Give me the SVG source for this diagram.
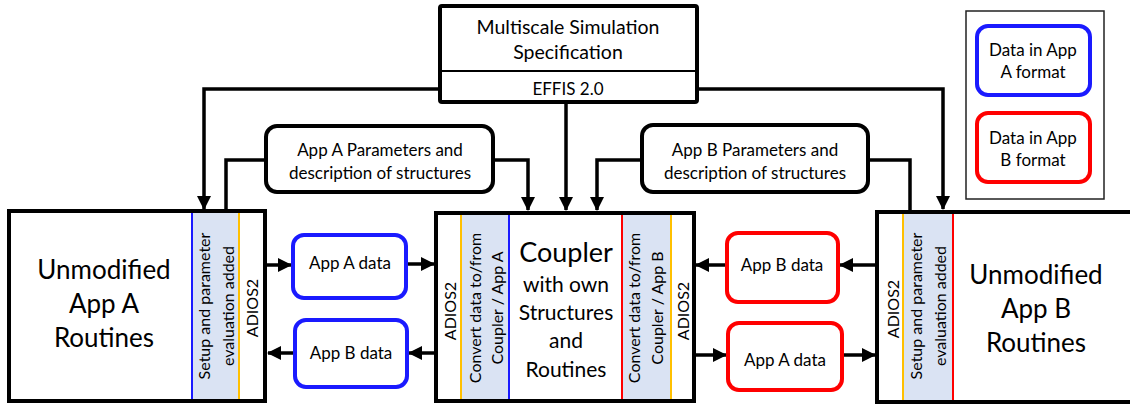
<svg xmlns="http://www.w3.org/2000/svg" width="1130" height="404" viewBox="0 0 1130 404">
  <style>
    text { font-family: Lato, "Open Sans", "Liberation Sans", sans-serif; fill: #000; }
    .box { fill: #fff; stroke: #000; stroke-width: 4; }
    .panel { fill: #dae3f3; stroke: none; }
    .sepBlue { stroke: #1a1aff; stroke-width: 2; }
    .sepRed { stroke: #ff0000; stroke-width: 2; }
    .sepGold { stroke: #ffc000; stroke-width: 2; }
    .dataA { fill: #fff; stroke: #1a1aff; stroke-width: 4; }
    .dataB { fill: #fff; stroke: #ff0000; stroke-width: 4; }
    .param { fill: #fff; stroke: #000; stroke-width: 4; }
    .big { font-size: 26px; text-anchor: middle; }
    .mid { font-size: 21px; text-anchor: middle; }
    .lbl { font-size: 17px; text-anchor: middle; }
    .vt { font-size: 16px; text-anchor: middle; }
    .conn { fill: none; stroke: #000; stroke-width: 3.5; }
    .arr { marker-end: url(#head); }
  </style>
  <defs>
    <marker id="head" markerUnits="userSpaceOnUse" markerWidth="14" markerHeight="14" viewBox="0 0 14 14" refX="13" refY="7" orient="auto">
      <path d="M0,0 L14,7 L0,14 Z" fill="#000"/>
    </marker>
  </defs>

  <!-- connectors -->
  <g id="connectors">
    <!-- specification fan-out -->
    <path class="conn arr" d="M440,89 H204 V209"/>
    <path class="conn arr" d="M697,89 H943 V209"/>
    <path class="conn arr" d="M566,102 V210"/>
    <!-- parameter boxes -->
    <path class="conn" d="M226,211 V160 H266"/>
    <path class="conn arr" d="M493,160 H528 V210"/>
    <path class="conn arr" d="M642,160 H597 V210"/>
    <path class="conn" d="M868,160 H910 V211"/>
    <!-- App A side data flow -->
    <path class="conn arr" d="M266,265 H291"/>
    <path class="conn arr" d="M406,264 H434"/>
    <path class="conn arr" d="M436,353 H409"/>
    <path class="conn arr" d="M295,353 H268"/>
    <!-- App B side data flow -->
    <path class="conn arr" d="M877,265 H840"/>
    <path class="conn arr" d="M727,265 H696"/>
    <path class="conn arr" d="M694,355 H726"/>
    <path class="conn arr" d="M842,355 H875"/>
  </g>

  <!-- specification -->
  <g id="spec">
    <rect class="box" x="440" y="6" width="257" height="96" rx="2"/>
    <line x1="440" y1="71" x2="697" y2="71" stroke="#000" stroke-width="2"/>
    <text class="mid" x="568" y="34" style="font-size:19.5px">Multiscale Simulation</text>
    <text class="mid" x="568" y="59" style="font-size:19.5px">Specification</text>
    <text class="mid" x="568" y="95" style="font-size:17px">EFFIS 2.0</text>
  </g>

  <!-- legend -->
  <g id="legend">
    <rect x="966" y="11" width="138" height="188" fill="#fff" stroke="#222" stroke-width="1.5"/>
    <rect class="dataA" x="977" y="26" width="113" height="69" rx="11"/>
    <text class="lbl" x="1033" y="56">Data in App</text>
    <text class="lbl" x="1033" y="78">A format</text>
    <rect class="dataB" x="977" y="113" width="113" height="69" rx="11"/>
    <text class="lbl" x="1033" y="144">Data in App</text>
    <text class="lbl" x="1033" y="166">B format</text>
  </g>

  <!-- parameter boxes -->
  <g id="paramsA">
    <rect class="param" x="266" y="126" width="227" height="66" rx="11"/>
    <text class="lbl" x="380" y="156">App A Parameters and</text>
    <text class="lbl" x="380" y="179">description of structures</text>
  </g>
  <g id="paramsB">
    <rect class="param" x="642" y="125" width="226" height="67" rx="11"/>
    <text class="lbl" x="755" y="156">App B Parameters and</text>
    <text class="lbl" x="755" y="179">description of structures</text>
  </g>

  <!-- App A -->
  <g id="appA">
    <rect class="box" x="9" y="211" width="256" height="190"/>
    <rect class="panel" x="192" y="213" width="47" height="186"/>
    <line class="sepBlue" x1="192" y1="213" x2="192" y2="399"/>
    <line class="sepGold" x1="239" y1="213" x2="239" y2="399"/>
    <text class="big" x="104" y="279">Unmodified</text>
    <text class="big" x="104" y="313">App A</text>
    <text class="big" x="104" y="347">Routines</text>
    <g transform="translate(204,306) rotate(-90)"><text class="vt" x="0" y="5.5">Setup and parameter</text></g>
    <g transform="translate(228,306) rotate(-90)"><text class="vt" x="0" y="5.5">evaluation added</text></g>
    <g transform="translate(252,308) rotate(-90)"><text class="vt" x="0" y="5.5">ADIOS2</text></g>
  </g>

  <!-- coupler -->
  <g id="coupler">
    <rect class="box" x="436" y="213" width="258" height="188"/>
    <rect class="panel" x="461" y="215" width="48" height="184"/>
    <rect class="panel" x="622" y="215" width="49" height="184"/>
    <line class="sepGold" x1="461" y1="215" x2="461" y2="399"/>
    <line class="sepBlue" x1="509" y1="215" x2="509" y2="399"/>
    <line class="sepRed" x1="622" y1="215" x2="622" y2="399"/>
    <line class="sepGold" x1="671" y1="215" x2="671" y2="399"/>
    <text class="big" x="566" y="262" style="font-size:27px">Coupler</text>
    <text class="mid" x="566" y="292">with own</text>
    <text class="mid" x="566" y="320">Structures</text>
    <text class="mid" x="566" y="348">and</text>
    <text class="mid" x="566" y="377">Routines</text>
    <g transform="translate(450,311) rotate(-90)"><text class="vt" x="0" y="5.5">ADIOS2</text></g>
    <g transform="translate(475,308) rotate(-90)"><text class="vt" x="0" y="5.5">Convert data to/from</text></g>
    <g transform="translate(497,308) rotate(-90)"><text class="vt" x="0" y="5.5">Coupler / App A</text></g>
    <g transform="translate(634,308) rotate(-90)"><text class="vt" x="0" y="5.5">Convert data to/from</text></g>
    <g transform="translate(657,308) rotate(-90)"><text class="vt" x="0" y="5.5">Coupler / App B</text></g>
    <g transform="translate(683,311) rotate(-90)"><text class="vt" x="0" y="5.5">ADIOS2</text></g>
  </g>

  <!-- App B -->
  <g id="appB">
    <rect class="box" x="877" y="212" width="260" height="190"/>
    <rect class="panel" x="903" y="214" width="50" height="186"/>
    <line class="sepGold" x1="903" y1="214" x2="903" y2="400"/>
    <line class="sepRed" x1="953" y1="214" x2="953" y2="400"/>
    <text class="big" x="1036" y="284">Unmodified</text>
    <text class="big" x="1036" y="318">App B</text>
    <text class="big" x="1036" y="352">Routines</text>
    <g transform="translate(893,309) rotate(-90)"><text class="vt" x="0" y="5.5">ADIOS2</text></g>
    <g transform="translate(916,306) rotate(-90)"><text class="vt" x="0" y="5.5">Setup and parameter</text></g>
    <g transform="translate(940,306) rotate(-90)"><text class="vt" x="0" y="5.5">evaluation added</text></g>
  </g>

  <!-- data packets -->
  <g id="dataA1">
    <rect class="dataA" x="293" y="235" width="113" height="63" rx="11"/>
    <text class="lbl" x="350" y="269">App A data</text>
  </g>
  <g id="dataB1">
    <rect class="dataA" x="295" y="320" width="112" height="67" rx="11"/>
    <text class="lbl" x="351" y="359">App B data</text>
  </g>
  <g id="dataB2">
    <rect class="dataB" x="727" y="233" width="111" height="69" rx="11"/>
    <text class="lbl" x="782" y="271">App B data</text>
  </g>
  <g id="dataA2">
    <rect class="dataB" x="728" y="323" width="114" height="67" rx="11"/>
    <text class="lbl" x="785" y="366">App A data</text>
  </g>
</svg>
